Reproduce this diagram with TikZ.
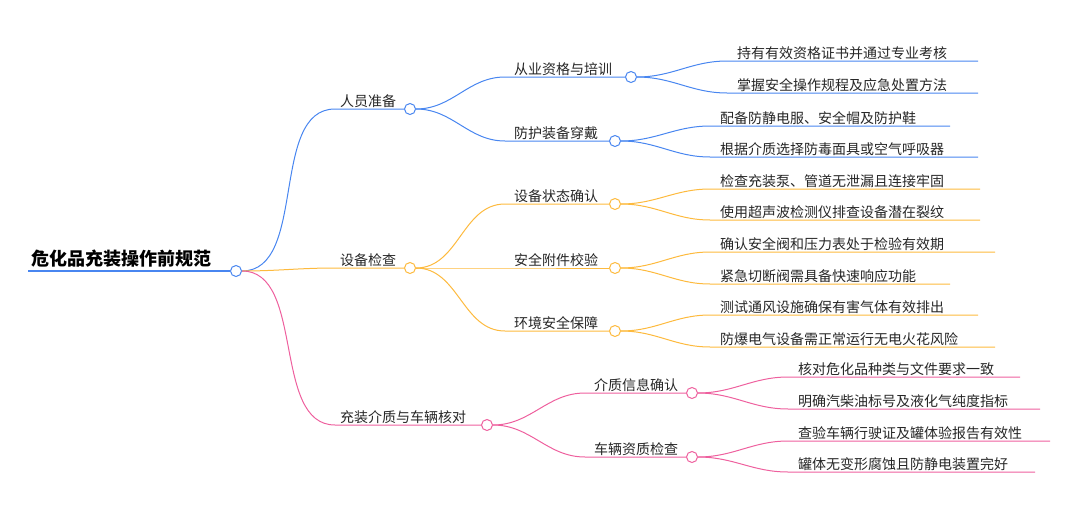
\documentclass[tikz,border=0pt]{standalone}
\usepackage{fontspec}
\setmainfont{Noto Sans CJK SC}
\definecolor{cblue}{RGB}{72,134,240}
\definecolor{corange}{RGB}{253,186,62}
\definecolor{cpink}{RGB}{238,96,158}
\tikzset{
  dot/.style={circle, draw, fill=white, line width=1pt, inner sep=0pt, minimum size=11pt},
  lab/.style={anchor=south west, inner sep=1pt, font=\fontsize{14}{16}\selectfont, text=black!85},
  edge/.style={line width=1pt},
}
\begin{document}
\begin{tikzpicture}[x=1pt,y=-1pt]
  \useasboundingbox (0,0) rectangle (1080,530);
  % root
  \coordinate (rs) at (28,271);
  \node (r) [dot, draw=cblue] at (236,271) {};
  \node[anchor=south west, inner sep=3pt, font=\fontsize{18}{20}\selectfont\bfseries] (rt) at (rs) {危化品充装操作前规范};
  \draw[line width=2pt, cblue] (rs) -- (r.west);
  % level 1
  \node (p1) [dot, draw=cblue] at (410,109) {};
  \node (p2) [dot, draw=corange] at (410,268) {};
  \node (p3) [dot, draw=cpink] at (487,425) {};
  \coordinate (p1s) at (335,109); \coordinate (p2s) at (335,268); \coordinate (p3s) at (335,425);
  \draw[edge, cblue] (r.east) to[out=0, in=180, looseness=0.9] (p1s) -- (p1.west);
  \draw[edge, corange] (r.east) to[out=0, in=180] (p2s) -- (p2.west);
  \draw[edge, cpink] (r.east) to[out=0, in=180, looseness=0.9] (p3s) -- (p3.west);
  \node[lab] at (p1s) {\hspace{4pt}人员准备};
  \node[lab] at (p2s) {\hspace{4pt}设备检查};
  \node[lab] at (p3s) {\hspace{4pt}充装介质与车辆核对};
  % level 2
  \node (q1) [dot, draw=cblue] at (631,77) {};
  \node (q2) [dot, draw=cblue] at (615,141) {};
  \node (q3) [dot, draw=corange] at (615,204) {};
  \node (q4) [dot, draw=corange] at (615,268) {};
  \node (q5) [dot, draw=corange] at (615,331) {};
  \node (q6) [dot, draw=cpink] at (692,393) {};
  \node (q7) [dot, draw=cpink] at (692,457) {};
  \foreach \p/\q/\x/\c/\t in {p1/q1/505/cblue/从业资格与培训, p1/q2/505/cblue/防护装备穿戴,
      p2/q3/505/corange/设备状态确认, p2/q4/505/corange/安全附件校验, p2/q5/505/corange/环境安全保障,
      p3/q6/585/cpink/介质信息确认, p3/q7/585/cpink/车辆资质检查}{
    \coordinate (\q s) at (\x,0 |- \q);
    \draw[edge, \c] (\p.east) to[out=0, in=180] (\q s) -- (\q.west);
    \node[lab] at (\q s) {\hspace{8pt}\t};
  }
  % level 3
  \foreach \q/\x/\y/\e/\c/\t in {
      q1/727/61/978/cblue/持有有效资格证书并通过专业考核,
      q1/727/93/978/cblue/掌握安全操作规程及应急处置方法,
      q2/710/126/950/cblue/配备防静电服、安全帽及防护鞋,
      q2/710/157/978/cblue/根据介质选择防毒面具或空气呼吸器,
      q3/710/189/980/corange/检查充装泵、管道无泄漏且连接牢固,
      q3/710/220/980/corange/使用超声波检测仪排查设备潜在裂纹,
      q4/710/252/995/corange/确认安全阀和压力表处于检验有效期,
      q4/710/284/950/corange/紧急切断阀需具备快速响应功能,
      q5/710/315/978/corange/测试通风设施确保有害气体有效排出,
      q5/710/347/995/corange/防爆电气设备需正常运行无电火花风险,
      q6/788/377/1020/cpink/核对危化品种类与文件要求一致,
      q6/788/409/1040/cpink/明确汽柴油标号及液化气纯度指标,
      q7/788/441/1050/cpink/查验车辆行驶证及罐体验报告有效性,
      q7/788/472/1035/cpink/罐体无变形腐蚀且防静电装置完好}{
    \coordinate (a) at (\x,\y); \coordinate (b) at (\e,\y);
    \draw[edge, \c] (\q.east) to[out=0, in=180] (a) -- (b);
    \node[lab] at (a) {\hspace{9pt}\t};
  }
\end{tikzpicture}
\end{document}
